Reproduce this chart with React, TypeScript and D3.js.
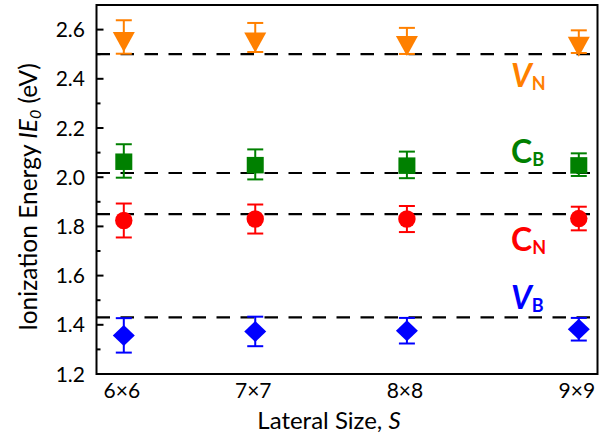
import React from 'react';
import * as d3 from 'd3';

// lateral size labels and the number of sites (S x S) used for the x position
const sizeLabels = ['6×6', '7×7', '8×8', '9×9'];
const sizeSites = [36, 49, 64, 81];

// ionization energies (eV) and error bars
const vnValues = [2.570, 2.568, 2.554, 2.551];
const vnErrors = [0.068, 0.059, 0.053, 0.046];
const cbValues = [2.066, 2.052, 2.050, 2.051];
const cbErrors = [0.068, 0.061, 0.054, 0.046];
const cnValues = [1.824, 1.830, 1.830, 1.832];
const cnErrors = [0.069, 0.059, 0.053, 0.048];
const vbValues = [1.357, 1.373, 1.376, 1.382];
const vbErrors = [0.070, 0.060, 0.052, 0.046];

// bulk limits (dashed lines)
const limits = [2.5, 2.017, 1.85, 1.43];

const yTicks = [1.2, 1.4, 1.6, 1.8, 2.0, 2.2, 2.4, 2.6];
const yMinor = [1.3, 1.5, 1.7, 1.9, 2.1, 2.3, 2.5];

const W = 613;
const H = 441;
const left = 96.5, right = 597.5, top = 5, bottom = 374;

const font = 'Lato, "Open Sans", sans-serif';

type Series = {
  values: number[];
  errors: number[];
  color: string;
  shape: 'tri' | 'square' | 'circle' | 'diamond';
};

const series: Series[] = [
  { values: vnValues, errors: vnErrors, color: '#FF8000', shape: 'tri' },
  { values: cbValues, errors: cbErrors, color: '#008000', shape: 'square' },
  { values: cnValues, errors: cnErrors, color: '#FF0000', shape: 'circle' },
  { values: vbValues, errors: vbErrors, color: '#0000FF', shape: 'diamond' },
];

// series annotations: main letter, subscript, energy at which the baseline sits
const annoMain = ['V', 'C', 'C', 'V'];
const annoSub = ['N', 'B', 'N', 'B'];
const annoValue = [2.368, 2.059, 1.70, 1.465];

function Marker({ shape, color, x, y }: { shape: Series['shape']; color: string; x: number; y: number }) {
  if (shape === 'circle') return <circle cx={x} cy={y} r={8.7} fill={color} />;
  if (shape === 'square') return <rect x={x - 8.5} y={y - 7.5} width={17} height={16.5} fill={color} />;
  if (shape === 'diamond')
    return <path d={`M${x},${y - 10.5}L${x + 11},${y}L${x},${y + 10.5}L${x - 11},${y}Z`} fill={color} />;
  return <path d={`M${x - 11},${y - 5}L${x + 11},${y - 5}L${x},${y + 15}Z`} fill={color} />;
}

export default function App() {
  const x = d3.scaleLinear().domain([33.3, 82.85]).range([left, right]);
  const y = d3.scaleLinear().domain([1.2, 2.7]).range([bottom, top]);

  return (
    <svg width={W} height={H} style={{ display: 'block', position: 'absolute', left: 0, top: 0 }} fontFamily={font}>
      <rect width={W} height={H} fill="#fff" />

      {/* dashed bulk limits */}
      {limits.map((v, i) => (
        <line key={'l' + i} x1={left} x2={right} y1={y(v)} y2={y(v)} stroke="#000" strokeWidth={2.2} strokeDasharray="13.5,10.5" />
      ))}

      {/* error bars and markers */}
      {series.map((s, si) => (
        <g key={'s' + si}>
          {s.values.map((v, i) => {
            const cx = x(sizeSites[i]);
            const y1 = y(v + s.errors[i]);
            const y2 = y(v - s.errors[i]);
            return (
              <g key={i}>
                <line x1={cx} x2={cx} y1={y1} y2={y2} stroke={s.color} strokeWidth={2} />
                <line x1={cx - 8} x2={cx + 8} y1={y1} y2={y1} stroke={s.color} strokeWidth={2} />
                <line x1={cx - 8} x2={cx + 8} y1={y2} y2={y2} stroke={s.color} strokeWidth={2} />
                <Marker shape={s.shape} color={s.color} x={cx} y={y(v)} />
              </g>
            );
          })}
        </g>
      ))}

      {/* annotations */}
      {annoMain.map((m, i) => (
        <text key={'a' + i} x={511} y={y(annoValue[i])} fill={series[i].color} fontWeight="bold" fontSize={32}>
          <tspan fontStyle={m === 'V' ? 'italic' : 'normal'}>{m}</tspan>
          <tspan fontSize={18} dy={3}>{annoSub[i]}</tspan>
        </text>
      ))}

      {/* frame */}
      <rect x={left} y={top} width={right - left} height={bottom - top} fill="none" stroke="#000" strokeWidth={2} />

      {/* y ticks */}
      {yTicks.map((t) => (
        <g key={'t' + t}>
          <line x1={left} x2={left + 7} y1={y(t)} y2={y(t)} stroke="#000" strokeWidth={2} />
          <text x={85} y={y(t)} dy="0.36em" textAnchor="end" fontSize={21}>
            {t.toFixed(1)}
          </text>
        </g>
      ))}
      {yMinor.map((t) => (
        <line key={'m' + t} x1={left} x2={left + 4} y1={y(t)} y2={y(t)} stroke="#000" strokeWidth={2} />
      ))}

      {/* x tick labels */}
      {sizeLabels.map((lab, i) => (
        <text key={'x' + i} x={x(sizeSites[i]) - 2} y={398} textAnchor="middle" fontSize={21}>
          {lab}
        </text>
      ))}

      {/* axis titles */}
      <text x={(left + right) / 2 - 18} y={429} textAnchor="middle" fontSize={24}>
        Lateral Size, <tspan fontStyle="italic">S</tspan>
      </text>
      <text transform={`translate(37,197) rotate(-90)`} textAnchor="middle" fontSize={24.5}>
        Ionization Energy <tspan fontStyle="italic">IE</tspan>
        <tspan fontStyle="italic" fontSize={16} dy={4}>0</tspan>
        <tspan dy={-4}> (eV)</tspan>
      </text>
    </svg>
  );
}
